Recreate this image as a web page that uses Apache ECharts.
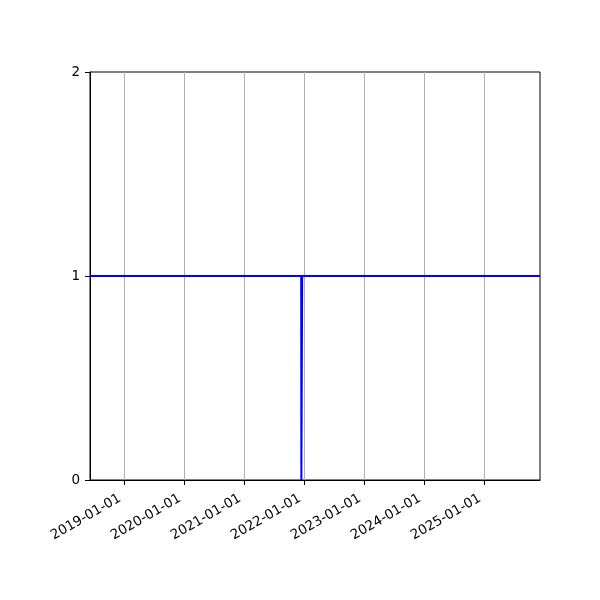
<!DOCTYPE html>
<html>
<head>
<meta charset="utf-8">
<script src="https://cdn.jsdelivr.net/npm/echarts@6/dist/echarts.min.js"></script>
<style>html,body{margin:0;padding:0;background:#fff}#c{width:600px;height:600px}</style>
</head>
<body>
<div id="c"></div>
<script>
var dates = ['2018-06-06', '2021-12-13', '2021-12-14', '2021-12-18', '2021-12-19', '2025-12-06'];
var values = [1, 1, 0, 0, 1, 1];
var xTickLabels = ['2019-01-01', '2020-01-01', '2021-01-01', '2022-01-01', '2023-01-01', '2024-01-01', '2025-01-01'];
var yTicks = [0, 1, 2];
var xMin = '2018-06-06';
var xMax = '2025-12-06';

function ts(s) { return new Date(s + 'T00:00:00Z').getTime(); }
function fmt(v) {
  var d = new Date(v);
  var m = d.getUTCMonth() + 1, dd = d.getUTCDate();
  return d.getUTCFullYear() + '-' + (m < 10 ? '0' : '') + m + '-' + (dd < 10 ? '0' : '') + dd;
}
var tickVals = xTickLabels.map(ts);
var seriesData = dates.map(function (d, i) { return [ts(d), values[i]]; });

var chart = echarts.init(document.getElementById('c'), null, { renderer: 'canvas' });
chart.setOption({
  animation: false,
  backgroundColor: '#fff',
  grid: { left: 90, right: 60, top: 72, bottom: 120, show: true, borderColor: '#000', borderWidth: 1, backgroundColor: 'transparent' },
  xAxis: {
    type: 'value',
    min: ts(xMin),
    max: ts(xMax),
    axisLine: { show: true, lineStyle: { color: '#000', width: 1 } },
    axisTick: { show: true, length: 5, lineStyle: { color: '#000' }, customValues: tickVals },
    axisLabel: {
      customValues: tickVals,
      rotate: 30,
      margin: 15,
      padding: [0, 5, 0, 0],
      color: '#000',
      fontFamily: 'DejaVu Sans',
      fontSize: 13.5,
      formatter: function (v) { return fmt(v); }
    },
    splitLine: { show: true, lineStyle: { color: '#b0b0b0', width: 1 } }
  },
  yAxis: {
    type: 'value',
    min: yTicks[0],
    max: yTicks[yTicks.length - 1],
    interval: 1,
    axisLine: { show: true, lineStyle: { color: '#000', width: 1 } },
    axisTick: { show: true, length: 5, lineStyle: { color: '#000' } },
    axisLabel: { color: '#000', fontFamily: 'DejaVu Sans', fontSize: 13.5, margin: 10 },
    splitLine: { show: false }
  },
  series: [{
    type: 'line',
    data: seriesData,
    showSymbol: false,
    symbol: 'none',
    lineStyle: { color: '#0000ff', width: 2 },
    itemStyle: { color: '#0000ff' },
    clip: true
  }]
});
</script>
</body>
</html>
